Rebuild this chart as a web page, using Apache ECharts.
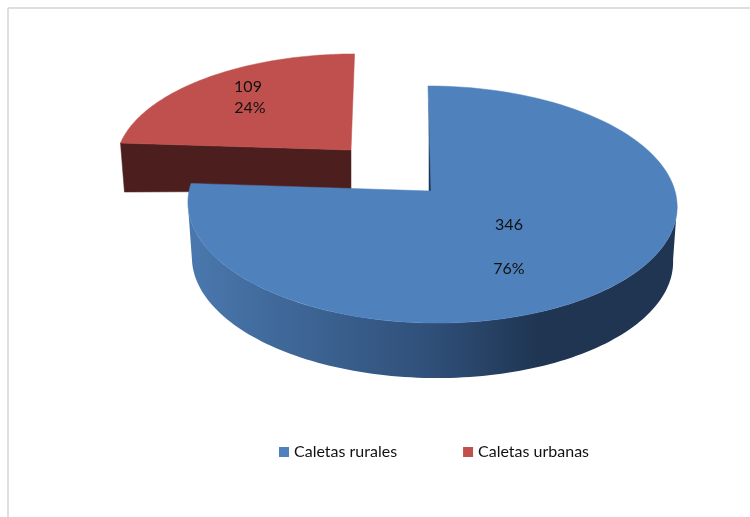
<!DOCTYPE html>
<html><head><meta charset="utf-8">
<style>html,body{margin:0;padding:0;background:#fff}#c{width:750px;height:517px}</style>
<script src="https://cdn.jsdelivr.net/npm/echarts@6/dist/echarts.min.js"></script>
</head><body><div id="c"></div>
<script>
var categories = ['Caletas rurales', 'Caletas urbanas'];
var values = [346, 109];
var colors = ['#4f81bd', '#c0504d'];
var total = values.reduce(function (a, b) { return a + b; }, 0);
var FONT = 'Lato';

// Perspective model of the tilted disc
var k = 0.114;
function rim(g, deg, lower) {
  var t = deg * Math.PI / 180, u = Math.sin(t), v = -Math.cos(t), w = 1 - k * v;
  var a = lower ? g.a2 : g.a;
  return [g.cx + (a * u + g.s * v) / w, g.cy + (lower ? g.d : 0) + g.b * v / w];
}
function arc(g, from, to, lower) {
  var pts = [], n = 120, i;
  for (i = 0; i <= n; i++) pts.push(rim(g, from + (to - from) * i / n, lower));
  return pts;
}
function poly(points, fill, stroke) {
  return { type: 'polygon', shape: { points: points }, style: { fill: fill, stroke: stroke || fill, lineWidth: 0.5 } };
}
function txt(s, x, y) {
  return { type: 'text', style: { text: s, x: x, y: y, fill: '#111', font: '16px ' + FONT, textAlign: 'center', textVerticalAlign: 'middle' } };
}
var geoBlue = { cx: 432, cy: 191, a: 243, a2: 239, b: 117, s: 4.5, d: 55, ax: 430 };
var geoRed = { cx: 351, cy: 150, a: 233, a2: 229, b: 107, s: -4, d: 49, apexD: 41 };

function renderBlue(params, api) {
  var g = geoBlue, end = api.value(0) / total * 360;
  var wall = arc(g, 96.5, 263.5, true).concat(arc(g, 96.5, 263.5, false).reverse());
  var grad = new echarts.graphic.LinearGradient(0, 0, 1, 0, [
    { offset: 0, color: '#4a78ae' }, { offset: 0.5, color: '#2f4f78' },
    { offset: 0.72, color: '#1f3552' }, { offset: 1, color: '#1f3552' }]);
  var apex = [g.ax, g.cy], st = rim(g, 0, false);
  var top = [[apex[0] + 1, apex[1]]].concat(arc(g, 0, end, false));
  return { type: 'group', children: [
    poly(wall, grad, 'none'),
    poly([[st[0] + 1, st[1] + 16], [apex[0] - 1, apex[1]], [apex[0] + 2, apex[1]], [st[0] + 3, st[1] + 16]], '#1f3552'),
    poly(top, colors[0]),
    txt(String(api.value(0)), 509, 225),
    txt(Math.round(api.value(0) / total * 100) + '%', 509, 269)
  ] };
}
function renderRed(params, api) {
  var g = geoRed, start = 360 - api.value(0) / total * 360;
  var s0 = rim(g, start, false), s1 = rim(g, start, true);
  var apex = [g.cx, g.cy], apexLow = [g.cx, g.cy + g.apexD];
  return { type: 'group', children: [
    poly([s0, apex, apexLow, s1], '#4c1f1e'),
    poly([apex].concat(arc(g, start, 360, false)), colors[1]),
    txt(String(api.value(0)), 248, 87),
    txt(Math.round(api.value(0) / total * 100) + '%', 250, 108)
  ] };
}

var chart = echarts.init(document.getElementById('c'), null, { renderer: 'canvas' });
chart.setOption({
  animation: false,
  backgroundColor: '#fff',
  legend: {
    left: 279, top: 444, padding: 0, itemWidth: 10, itemHeight: 10, itemGap: 66, icon: 'rect',
    selectedMode: false,
    textStyle: { fontFamily: FONT, fontSize: 16, color: '#111' },
    data: categories
  },
  graphic: [
    { type: 'line', shape: { x1: 8, y1: 8, x2: 8, y2: 517 }, style: { stroke: '#d4d4d4', lineWidth: 1.5 } },
    { type: 'line', shape: { x1: 8, y1: 8, x2: 750, y2: 8 }, style: { stroke: '#d4d4d4', lineWidth: 1.5 } }
  ],
  series: [
    { type: 'custom', name: categories[0], coordinateSystem: 'none', z: 3, silent: true, itemStyle: { color: colors[0] }, data: [[values[0]]], renderItem: renderBlue },
    { type: 'custom', name: categories[1], coordinateSystem: 'none', z: 2, silent: true, itemStyle: { color: colors[1] }, data: [[values[1]]], renderItem: renderRed }
  ]
});
</script></body></html>
